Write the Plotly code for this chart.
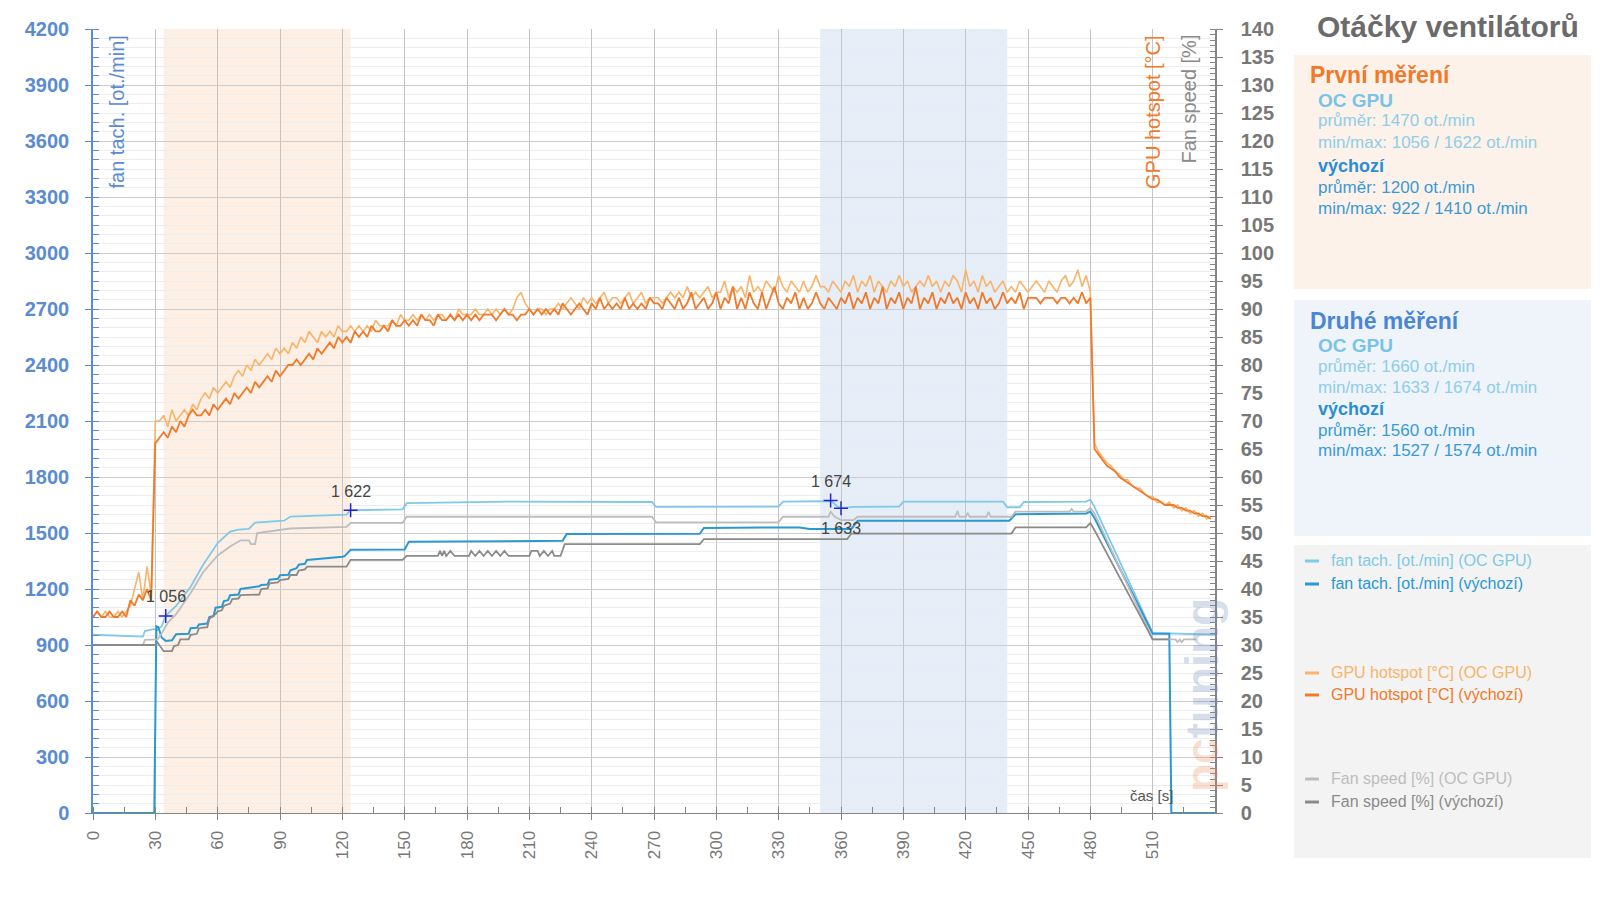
import plotly.graph_objects as go

# ---------------- DATA ----------------
x_ticks = [0, 30, 60, 90, 120, 150, 180, 210, 240, 270, 300, 330, 360, 390, 420, 450, 480, 510]

# GPU hotspot [°C], sampled every 2 s (0 .. 538 s)
t_hot = list(range(0, 540, 2))
hot_def = [
    35, 36, 35, 35, 36, 35, 35, 36, 35, 38, 37, 39, 38, 40, 38, 66,
    67, 68, 67, 69, 68, 70, 69, 71, 72, 71, 71, 72, 71, 73, 72, 73, 74, 73, 75, 74,
    75, 76, 75, 77, 76, 77, 78, 77, 79, 78, 79, 80, 80, 81, 80, 81, 82, 81, 83, 82,
    83, 84, 83, 85, 84, 85, 84, 86, 85, 86, 85, 87, 86, 86, 87, 86, 88, 87, 87, 88,
    87, 88, 87, 89, 88, 88, 87, 89, 88, 88, 89, 88, 89, 88, 89, 88, 89, 88, 89, 89,
    89, 88, 89, 90, 89, 89, 88, 89, 89, 90, 89, 90, 89, 90, 89, 90, 89, 91, 90, 89,
    90, 91, 90, 89, 91, 90, 92, 90, 91, 90, 91, 90, 92, 90, 91, 90, 91, 90, 92, 91,
    91, 90, 92, 91, 90, 92, 90, 91, 93, 90, 91, 92, 90, 91, 93, 90, 92, 91, 94, 90,
    92, 90, 93, 91, 90, 93, 90, 92, 94, 91, 90, 92, 91, 93, 90, 92, 90, 91, 93, 91,
    90, 92, 91, 90, 92, 91, 93, 90, 92, 91, 93, 90, 92, 91, 94, 90, 92, 91, 93, 90,
    92, 91, 94, 90, 92, 91, 93, 90, 92, 91, 93, 91, 92, 90, 93, 91, 92, 90, 93, 91,
    92, 90, 91, 93, 91, 92, 91, 93, 90, 92, 92, 92, 91, 92, 92, 92, 91, 92, 92, 91,
    92, 91, 93, 91, 92,
    65, 64, 63, 62, 61.5, 61, 60, 59.5, 59, 58.5, 58, 57.5, 57, 56.5, 56, 56, 55.5,
    55, 55, 55, 54.5, 54.5, 54, 54, 53.5, 53.5, 53, 53, 52.5,
]
hot_oc = [
    35, 36, 35, 36, 35, 35, 36, 35, 36, 37, 40, 43, 38, 44, 39, 70,
    70, 71, 69, 72, 70, 71, 72, 71, 73, 72, 74, 75, 74, 76, 75, 76, 77, 76, 78, 79,
    78, 80, 79, 81, 80, 81, 82, 81, 83, 82, 83, 82, 84, 83, 85, 84, 86, 85, 84, 86,
    85, 86, 85, 87, 86, 86, 87, 86, 87, 86, 87, 86, 88, 87, 87, 87, 88, 87, 89, 88,
    88, 89, 88, 89, 88, 89, 88, 89, 89, 88, 89, 88, 90, 89, 89, 89, 90, 89, 89, 90,
    89, 90, 89, 90, 89, 90, 92, 93, 91, 90, 89, 90, 90, 89, 90, 90, 91, 90, 91, 92,
    91, 90, 92, 91, 92, 91, 92, 93, 91, 92, 92, 91, 92, 93, 91, 92, 93, 91, 92, 92,
    92, 91, 92, 93, 92, 93, 92, 94, 92, 93, 92, 93, 94, 92, 93, 93, 95, 92, 94, 93,
    94, 92, 96, 93, 94, 93, 95, 94, 93, 96, 94, 93, 95, 94, 93, 95, 93, 94, 96, 94,
    94, 93, 95, 94, 93, 95, 94, 96, 93, 95, 94, 96, 93, 95, 94, 93, 95, 94, 96, 94,
    95, 93, 94, 95, 94, 96, 94, 95, 93, 95, 94, 96, 95, 93, 97, 94, 95, 93, 96, 94,
    95, 93, 94, 95, 93, 94, 93, 95, 94, 93, 94, 95, 94, 93, 95, 94, 93, 95, 96, 94,
    95, 97, 94, 96, 93,
    66, 64.5, 63.5, 62.5, 62, 61, 60.5, 59.5, 59.5, 58.5, 58, 58, 57, 56.5, 56.5,
    55.5, 55.5, 55, 55.5, 54.5, 55, 54, 54.5, 53.5, 54, 53, 53.5, 52.5, 53,
]

# fan tach [ot./min]
ft_oc_t = [0, 24, 25, 29, 31, 33, 35, 40, 47, 53, 60, 66, 70, 75, 78, 92, 95, 110, 122, 124,
           149, 151, 200, 269, 271, 330, 332, 354, 355, 358, 360, 366, 388, 390, 438, 440,
           446, 448, 478, 480, 482, 510, 525, 540]
ft_oc_v = [955, 945, 975, 985, 980, 1000, 1056, 1110, 1212, 1330, 1446, 1507, 1518, 1522, 1556,
           1566, 1588, 1592, 1598, 1622, 1627, 1660, 1668, 1666, 1640, 1642, 1668, 1670, 1674,
           1645, 1633, 1640, 1642, 1668, 1668, 1638, 1638, 1666, 1668, 1678, 1640, 965, 958, 955]
ft_def_t = [0, 29.5, 30.5, 31.5, 33, 35, 38, 40, 46, 47, 50, 51, 55, 56, 58, 59, 62, 63, 65, 66,
            70, 71, 80, 81, 84, 85, 89, 90, 94, 95, 98, 99, 102, 103, 120, 121, 124, 150, 152,
            226, 228, 292, 294, 340, 345, 365, 368, 441, 444, 478, 480, 482, 510, 518, 519, 540]
ft_def_v = [0, 0, 1000, 995, 940, 922, 925, 958, 960, 990, 992, 1010, 1015, 1050, 1055, 1100,
            1105, 1135, 1140, 1167, 1170, 1200, 1215, 1222, 1224, 1250, 1255, 1274, 1276, 1300,
            1312, 1330, 1335, 1355, 1373, 1375, 1410, 1412, 1453, 1458, 1494, 1496, 1527, 1530,
            1522, 1522, 1566, 1566, 1600, 1605, 1615, 1580, 960, 960, 0, 0]

# Fan speed [%]
fs_oc_t = [0, 24, 25, 31, 33, 36, 40, 47, 53, 60, 66, 71, 75, 76, 78, 79, 95, 122, 124, 149,
           151, 269, 271, 330, 332, 354, 355, 357, 360, 366, 368, 415, 416, 417, 420, 421, 422,
           430, 431, 432, 442, 444, 470, 471, 472, 478, 480, 482, 510, 521, 522, 523, 524, 525,
           526, 531]
fs_oc_v = [30, 30, 30.9, 31, 32, 34, 35.5, 39.3, 43, 46, 47.6, 48.7, 48.7, 48, 48, 50, 50.8,
           51.1, 51.8, 51.8, 52.9, 52.9, 51.9, 51.9, 52.9, 52.9, 53.8, 52.9, 52.3, 52.3, 52.9,
           52.9, 53.9, 52.9, 52.9, 53.5, 52.9, 52.9, 53.8, 52.9, 52.9, 53.8, 53.8, 54.3, 53.8,
           53.8, 54.5, 53.5, 31, 31, 30.5, 31, 30.5, 31, 31, 31]
fs_def_t = [0, 30, 31, 33, 34, 38, 39, 41, 42, 46, 47, 50, 51, 55, 56, 59, 60, 62, 63, 66, 67,
            70, 71, 80, 81, 84, 85, 89, 90, 94, 95, 98, 99, 102, 103, 122, 124, 149, 151, 166,
            167, 168, 169, 170, 172, 174, 181, 182, 184, 186, 188, 190, 192, 194, 196, 198, 200,
            210, 211, 214, 215, 217, 219, 221, 222, 225, 227, 292, 294, 363, 365, 442, 444, 478,
            480, 482, 510, 518]
fs_def_v = [30, 30, 30.5, 29.5, 28.9, 28.9, 29.8, 30, 31, 31, 31.8, 32, 33, 33.2, 34.7, 35.5,
            36, 36.2, 37, 37.4, 38.2, 38.3, 38.9, 39, 40, 40.1, 41, 41.2, 41.6, 41.8, 42.5, 42.5,
            43.3, 43.5, 44, 44, 45.2, 45.2, 45.9, 45.9, 46.8, 45.9, 46.8, 45.9, 46.8, 45.9, 45.9,
            46.8, 45.9, 46.8, 45.9, 46.8, 45.9, 46.8, 45.9, 46.8, 45.9, 45.9, 46.8, 46.8, 45.9,
            46.8, 45.9, 46.8, 45.9, 45.9, 48, 48, 48.9, 48.9, 49.9, 49.9, 51, 51, 51.8, 50.5, 31, 31]

# marked min/max points
mark_t = [35, 124, 355, 360]
mark_v = [1056, 1622, 1674, 1633]
mark_lbl = ["1 056", "1 622", "1 674", "1 633"]
mark_shift = [19, 19, 19, -20]

# shaded measurement windows
band1 = [34, 124]
band2 = [350, 440]

assert len(hot_def) == len(t_hot) and len(hot_oc) == len(t_hot)
assert len(ft_oc_t) == len(ft_oc_v) and len(ft_def_t) == len(ft_def_v)
assert len(fs_oc_t) == len(fs_oc_v) and len(fs_def_t) == len(fs_def_v)

# ---------------- STYLE ----------------
C_FT_OC = "#7fc9e8"
C_FT_DEF = "#2a98d2"
C_HOT_OC = "#f8b46a"
C_HOT_DEF = "#f07a2a"
C_FS_OC = "#bdbdbd"
C_FS_DEF = "#8a8a8a"
AX_BLUE = "#5b8bd0"
AX_GRAY = "#858585"
FONT = "Liberation Sans"

L, R, T, B = 93, 385, 29, 85
WIDTH, HEIGHT = 1600, 898
PW = WIDTH - L - R
PH = HEIGHT - T - B


def px(x):
    return (x - L) / PW


def py(y):
    return 1 - (y - T) / PH


fig = go.Figure()

fig.add_trace(go.Scatter(x=ft_oc_t, y=ft_oc_v, mode="lines", line=dict(color=C_FT_OC, width=1.8),
                         name="fan tach. [ot./min] (OC GPU)", yaxis="y"))
fig.add_trace(go.Scatter(x=ft_def_t, y=ft_def_v, mode="lines", line=dict(color=C_FT_DEF, width=2),
                         name="fan tach. [ot./min] (výchozí)", yaxis="y"))
fig.add_trace(go.Scatter(x=mark_t, y=mark_v, mode="markers",
                         marker=dict(symbol="cross-thin", size=10, line=dict(color="#2626d0", width=1.5)),
                         yaxis="y", hoverinfo="skip"))
fig.add_trace(go.Scatter(x=fs_oc_t, y=fs_oc_v, mode="lines", line=dict(color=C_FS_OC, width=1.8),
                         name="Fan speed [%] (OC GPU)", yaxis="y2"))
fig.add_trace(go.Scatter(x=fs_def_t, y=fs_def_v, mode="lines", line=dict(color=C_FS_DEF, width=1.8),
                         name="Fan speed [%] (výchozí)", yaxis="y2"))
fig.add_trace(go.Scatter(x=t_hot, y=hot_oc, mode="lines", line=dict(color=C_HOT_OC, width=1.6),
                         name="GPU hotspot [°C] (OC GPU)", yaxis="y2"))
fig.add_trace(go.Scatter(x=t_hot, y=hot_def, mode="lines", line=dict(color=C_HOT_DEF, width=1.8),
                         name="GPU hotspot [°C] (výchozí)", yaxis="y2"))

shapes = [
    dict(type="rect", xref="x", yref="paper", x0=band1[0], x1=band1[1], y0=0, y1=1,
         fillcolor="#fdefe4", line=dict(width=0), layer="below"),
    dict(type="rect", xref="x", yref="paper", x0=band2[0], x1=band2[1], y0=0, y1=1,
         fillcolor="#e5eef8", line=dict(width=0), layer="below"),
    # side panels
    dict(type="rect", xref="paper", yref="paper", x0=px(1294), x1=px(1591), y0=py(289), y1=py(55),
         fillcolor="#fcf2ea", line=dict(width=0)),
    dict(type="rect", xref="paper", yref="paper", x0=px(1294), x1=px(1591), y0=py(536), y1=py(300),
         fillcolor="#eef4fa", line=dict(width=0)),
    dict(type="rect", xref="paper", yref="paper", x0=px(1294), x1=px(1591), y0=py(858), y1=py(545),
         fillcolor="#f3f3f3", line=dict(width=0)),
]

ann = []


def text(x, y, s, size, color, bold=False, xanchor="left", angle=0, yanchor="middle"):
    ann.append(dict(xref="paper", yref="paper", x=px(x), y=py(y), text=s, showarrow=False,
                    xanchor=xanchor, yanchor=yanchor, textangle=angle,
                    font=dict(family=FONT, size=size, color=color, weight="bold" if bold else "normal")))


# title
text(1581, 27, "Otáčky ventilátorů", 30, "#6b6b6b", bold=True, xanchor="right")
# panel 1
text(1308, 75, "První měření", 23, "#f07a2a", bold=True)
text(1316, 100, "OC GPU", 19, "#79c3e6", bold=True)
text(1316, 120, "průměr: 1470 ot./min", 17, "#8fcde9")
text(1316, 142, "min/max: 1056 / 1622 ot./min", 17, "#8fcde9")
text(1316, 166, "výchozí", 18, "#2a8ed0", bold=True)
text(1316, 187, "průměr: 1200 ot./min", 17, "#3a9ad6")
text(1316, 208, "min/max: 922 / 1410 ot./min", 17, "#3a9ad6")
# panel 2
text(1308, 321, "Druhé měření", 23, "#4b86d6", bold=True)
text(1316, 345, "OC GPU", 19, "#79c3e6", bold=True)
text(1316, 366, "průměr: 1660 ot./min", 17, "#8fcde9")
text(1316, 387, "min/max: 1633 / 1674 ot./min", 17, "#8fcde9")
text(1316, 409, "výchozí", 18, "#2a8ed0", bold=True)
text(1316, 430, "průměr: 1560 ot./min", 17, "#3a9ad6")
text(1316, 451, "min/max: 1527 / 1574 ot./min", 17, "#3a9ad6")

# legend (panel 3)
leg = [
    (560, C_FT_OC, "fan tach. [ot./min] (OC GPU)"),
    (583, C_FT_DEF, "fan tach. [ot./min] (výchozí)"),
    (672, C_HOT_OC, "GPU hotspot [°C] (OC GPU)"),
    (694, C_HOT_DEF, "GPU hotspot [°C] (výchozí)"),
    (778, C_FS_OC, "Fan speed [%] (OC GPU)"),
    (801, C_FS_DEF, "Fan speed [%] (výchozí)"),
]
for yy, col, lbl in leg:
    shapes.append(dict(type="line", xref="paper", yref="paper", x0=px(1305), x1=px(1319),
                       y0=py(yy + 1), y1=py(yy + 1), line=dict(color=col, width=3)))
    text(1329, yy, lbl, 16, col)

# in-plot axis titles
text(116, 34, "fan tach. [ot./min]", 20, AX_BLUE, angle=-90, xanchor="center", yanchor="top")
text(1153, 33, "GPU hotspot [°C]", 20, "#f07a2a", angle=-90, xanchor="center", yanchor="top")
text(1189, 33, "Fan speed [%]", 20, "#8a8a8a", angle=-90, xanchor="center", yanchor="top")
text(1151, 795, "čas [s]", 15, "#555555", xanchor="center")
# watermark
ann.append(dict(xref="paper", yref="paper", x=px(1202), y=py(695), showarrow=False,
                text="<span style='color:rgba(240,140,90,0.30)'>pc</span>"
                     "<span style='color:rgba(110,140,190,0.30)'>tuning</span>",
                textangle=-90, xanchor="center", yanchor="middle",
                font=dict(family=FONT, size=46, weight="bold")))

# point labels
for tx, vy, lb, sh in zip(mark_t, mark_v, mark_lbl, mark_shift):
    ann.append(dict(xref="x", yref="y", x=tx, y=vy, text=lb, showarrow=False, yshift=sh,
                    xanchor="center", yanchor="middle",
                    font=dict(family=FONT, size=16, color="#444444")))

fig.update_layout(
    width=WIDTH, height=HEIGHT,
    margin=dict(l=L, r=R, t=T, b=B, pad=0),
    paper_bgcolor="white", plot_bgcolor="white",
    showlegend=False,
    shapes=shapes, annotations=ann,
    xaxis=dict(range=[0, 540], tickmode="array", tickvals=x_ticks,
               ticktext=[str(v) for v in x_ticks], tickangle=-90,
               showgrid=True, gridcolor="#c4c4c4", gridwidth=1,
               showline=True, linecolor=AX_GRAY, linewidth=1,
               ticks="outside", ticklen=6, tickcolor=AX_GRAY,
               tickfont=dict(family=FONT, size=17, color="#777777"),
               minor=dict(tick0=0, dtick=15, ticks="inside", ticklen=6, tickcolor=AX_GRAY, showgrid=False),
               zeroline=False, ticklabelstandoff=4),
    yaxis=dict(range=[0, 4200], tick0=0, dtick=300,
               showgrid=True, gridcolor="#cdcdcd", gridwidth=1,
               showline=True, linecolor=AX_BLUE, linewidth=1.5,
               ticks="outside", ticklen=6, tickcolor=AX_BLUE,
               tickfont=dict(family=FONT, size=20, color=AX_BLUE, weight="bold"),
               minor=dict(tick0=0, dtick=50, ticks="inside", ticklen=6, tickcolor=AX_BLUE,
                          showgrid=True, gridcolor="#ededed"),
               zeroline=False, ticklabelstandoff=12),
    yaxis2=dict(range=[0, 140], tick0=0, dtick=5, overlaying="y", side="right",
                showgrid=False, showline=True, linecolor=AX_GRAY, linewidth=1.5,
                ticks="outside", ticklen=6, tickcolor=AX_GRAY,
                tickfont=dict(family=FONT, size=20, color="#777777", weight="bold"),
                minor=dict(tick0=0, dtick=1, ticks="inside", ticklen=5, tickcolor=AX_GRAY),
                zeroline=False, ticklabelstandoff=14),
)

fig.write_html("out.html")
